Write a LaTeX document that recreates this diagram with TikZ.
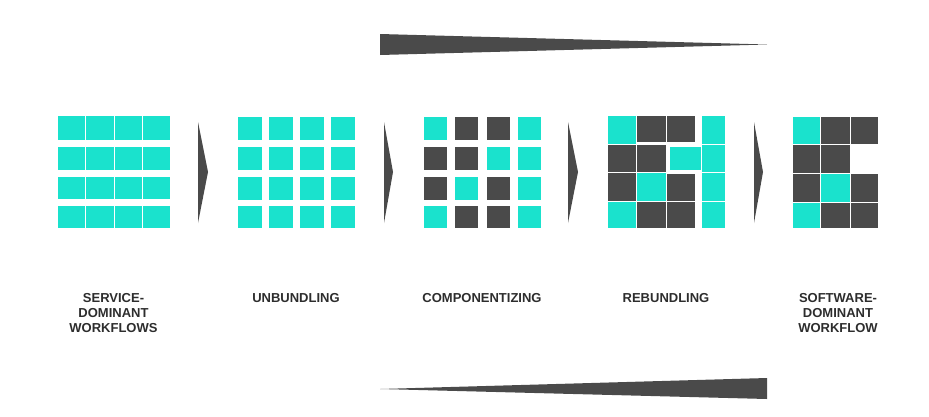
\documentclass[tikz,border=0pt]{standalone}
\usepackage{fontspec}
\setmainfont{Liberation Sans}
\definecolor{cellcyan}{RGB}{26,226,205}
\definecolor{celldark}{RGB}{74,74,74}
\definecolor{labelgray}{RGB}{45,45,45}
\tikzset{
  cy/.style={fill=cellcyan,draw=white,line width=0.9pt},
  dk/.style={fill=celldark,draw=white,line width=0.9pt},
  wedge/.style={fill=celldark},
  stagelabel/.style={anchor=north,inner sep=0pt,align=center,text=labelgray,font=\fontsize{13}{15}\selectfont\bfseries}
}
\begin{document}
\begin{tikzpicture}[x=1pt,y=-1pt]
          \useasboundingbox (0,0) rectangle (929,416);
          \path[cy] (57,115) rectangle (85,140) (85,115) rectangle (114,140) (114,115) rectangle (142,140) (142,115) rectangle (170,140);
          \path[cy] (57,146) rectangle (85,170) (85,146) rectangle (114,170) (114,146) rectangle (142,170) (142,146) rectangle (170,170);
          \path[cy] (57,176) rectangle (85,199) (85,176) rectangle (114,199) (114,176) rectangle (142,199) (142,176) rectangle (170,199);
          \path[cy] (57,205) rectangle (85,228) (85,205) rectangle (114,228) (114,205) rectangle (142,228) (142,205) rectangle (170,228);
          \fill[wedge] (198,122) -- (208,172) -- (198,223) -- cycle;
          \path[cy] (237,116) rectangle (262,140) (268,116) rectangle (293,140) (299,116) rectangle (324,140) (330,116) rectangle (355,140);
          \path[cy] (237,146.5) rectangle (262,170) (268,146.5) rectangle (293,170) (299,146.5) rectangle (324,170) (330,146.5) rectangle (355,170);
          \path[cy] (237,176.5) rectangle (262,200) (268,176.5) rectangle (293,200) (299,176.5) rectangle (324,200) (330,176.5) rectangle (355,200);
          \path[cy] (237,205) rectangle (262,228) (268,205) rectangle (293,228) (299,205) rectangle (324,228) (330,205) rectangle (355,228);
          \fill[wedge] (384,122) -- (393,172) -- (384,223) -- cycle;
          \path[cy] (423,116) rectangle (447,140) (517,116) rectangle (541,140);
          \path[dk] (454,116) rectangle (478,140) (486,116) rectangle (510,140);
          \path[dk] (423,146.5) rectangle (447,170) (454,146.5) rectangle (478,170);
          \path[cy] (486,146.5) rectangle (510,170) (517,146.5) rectangle (541,170);
          \path[dk] (423,176.5) rectangle (447,200) (486,176.5) rectangle (510,200);
          \path[cy] (454,176.5) rectangle (478,200) (517,176.5) rectangle (541,200);
          \path[cy] (423,205) rectangle (447,228) (517,205) rectangle (541,228);
          \path[dk] (454,205) rectangle (478,228) (486,205) rectangle (510,228);
          \fill[wedge] (568,122) -- (578,172) -- (568,223) -- cycle;
          \path[cy] (607,115) rectangle (636,144) (701,115) rectangle (725,144);
          \path[dk] (636,115) rectangle (666,142) (666,115) rectangle (695,142);
          \path[dk] (607,144) rectangle (636,172) (636,144) rectangle (666,172);
          \fill[cellcyan] (669.5,147) rectangle (701,170);
          \path[cy] (701,144) rectangle (725,172);
          \path[dk] (607,172) rectangle (636,201) (666,173.5) rectangle (695,201);
          \path[cy] (636,172) rectangle (666,201) (701,172) rectangle (725,201);
          \path[cy] (607,201) rectangle (636,228) (701,201) rectangle (725,228);
          \path[dk] (636,201) rectangle (666,228) (666,201) rectangle (695,228);
          \fill[wedge] (754,122) -- (763,172) -- (754,223) -- cycle;
          \path[cy] (792,116) rectangle (820,144);
          \path[dk] (820,116) rectangle (850,144) (850,116) rectangle (878,144);
          \path[dk] (792,144) rectangle (820,173) (820,144) rectangle (850,173);
          \path[dk] (792,173) rectangle (820,202) (850,173) rectangle (878,202);
          \path[cy] (820,173) rectangle (850,202);
          \path[cy] (792,202) rectangle (820,228);
          \path[dk] (820,202) rectangle (850,228) (850,202) rectangle (878,228);
          \fill[wedge] (380,34) -- (767,44.5) -- (380,55) -- cycle;
          \fill[wedge] (380,389) -- (767,378) -- (767,399) -- cycle;
          \node[stagelabel] (service) at (113.5,293) {SERVICE-\\DOMINANT\\WORKFLOWS};
          \node[stagelabel] (unbundling) at (296,293) {UNBUNDLING};
          \node[stagelabel] (componentizing) at (482,293) {COMPONENTIZING};
          \node[stagelabel] (rebundling) at (666,293) {REBUNDLING};
          \node[stagelabel] (software) at (838,293) {SOFTWARE-\\DOMINANT\\WORKFLOW};
        \end{tikzpicture}
\end{document}
